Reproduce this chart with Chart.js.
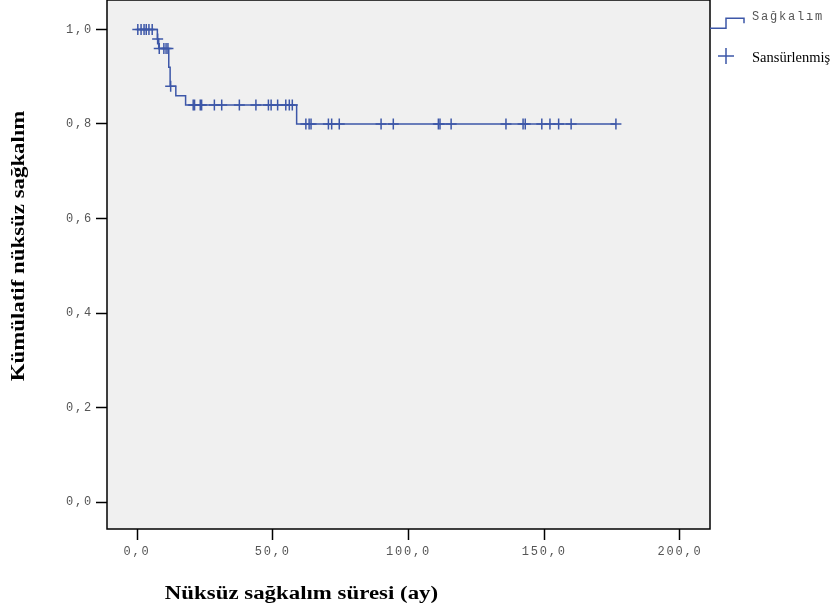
<!DOCTYPE html>
<html lang="tr">
<head>
<meta charset="utf-8">
<title>Kümülatif nüksüz sağkalım</title>
<script src="https://cdn.jsdelivr.net/npm/chart.js@4.4.1/dist/chart.umd.min.js"></script>
<style>
  html, body { margin: 0; padding: 0; background: #ffffff; }
  canvas { display: block; }
</style>
</head>
<body>
<canvas id="km" width="832" height="611"></canvas>
<script>
// Kaplan–Meier curve: time of each drop (months) and survival after it
const stepTimes    = [0, 7.5, 8.0, 11.7, 12.2, 14.3, 17.9, 58.8, 176.4];
const stepSurvival = [1.0, 0.98, 0.96, 0.92, 0.88, 0.86, 0.84, 0.80, 0.80];

// censored follow-up times (months)
const censorTimes = [
  0.3, 1.5, 2.6, 3.4, 4.4, 5.6, 7.6, 8.2, 9.9, 10.7, 11.4, 12.4,
  20.7, 21.2, 23.3, 23.8, 28.5, 31.2, 37.7, 43.8, 48.4, 49.4, 51.8,
  54.8, 56.1, 57.2, 62.2, 63.4, 64.1, 70.5, 71.7, 74.5, 89.9, 94.4,
  111.0, 111.6, 115.7, 135.9, 142.2, 143.0, 149.1, 152.1, 155.3, 159.9, 176.4
];

const xTicks = [0, 50, 100, 150, 200];
const yTicks = [0, 0.2, 0.4, 0.6, 0.8, 1.0];
const seriesLabels = ['Sağkalım', 'Sansürlenmiş'];
const xTitle = 'Nüksüz sağkalım süresi (ay)';
const yTitle = 'Kümülatif nüksüz sağkalım';

const BLUE = '#3D57A8';
const TICK_FONT = { family: '"Liberation Mono", "DejaVu Sans Mono", monospace', size: 12 };
const SPACING = '1.8px';

// survival level of the step curve at time t
function survivalAt(t) {
  let s = stepSurvival[0];
  for (let i = 0; i < stepTimes.length; i++) {
    if (stepTimes[i] <= t) s = stepSurvival[i];
  }
  return s;
}

const fmt = v => Number(v).toFixed(1).replace('.', ',');

function stretchedText(ctx, text, x, y, angle, font, sx) {
  ctx.save();
  ctx.translate(x, y);
  ctx.rotate(angle);
  ctx.scale(sx, 1);
  ctx.font = font;
  ctx.textAlign = 'center';
  ctx.textBaseline = 'middle';
  ctx.fillStyle = '#000';
  ctx.fillText(text, 0, 0);
  ctx.restore();
}

const framePlugin = {
  id: 'frame',
  beforeDraw(chart) {
    const { ctx, chartArea: a } = chart;
    ctx.save();
    ctx.fillStyle = '#F0F0F0';
    ctx.fillRect(a.left, a.top, a.right - a.left, a.bottom - a.top);
    ctx.restore();
    ctx.letterSpacing = SPACING;
  },
  afterDraw(chart) {
    const { ctx, chartArea: a } = chart;
    ctx.save();
    ctx.letterSpacing = '0px';

    // plot frame
    ctx.strokeStyle = '#000';
    ctx.lineWidth = 1.5;
    ctx.strokeRect(a.left, a.top, a.right - a.left, a.bottom - a.top);

    // axis titles
    const titleFont = 'bold 18px "Liberation Serif", "Times New Roman", serif';
    stretchedText(ctx, xTitle, 301.5, 594, 0, titleFont, 1.27);
    stretchedText(ctx, yTitle, 19, 246, -Math.PI / 2, titleFont, 1.27);

    // legend: step symbol
    ctx.strokeStyle = BLUE;
    ctx.lineWidth = 1.5;
    ctx.beginPath();
    ctx.moveTo(a.right, 28.3);
    ctx.lineTo(726, 28.3);
    ctx.lineTo(726, 18.3);
    ctx.lineTo(744, 18.3);
    ctx.lineTo(744, 23.3);
    ctx.stroke();

    // legend: censor cross
    ctx.beginPath();
    ctx.moveTo(718, 56); ctx.lineTo(734, 56);
    ctx.moveTo(726, 48); ctx.lineTo(726, 64);
    ctx.stroke();

    ctx.textAlign = 'left';
    ctx.textBaseline = 'middle';
    ctx.letterSpacing = SPACING;
    ctx.fillStyle = '#555';
    ctx.font = '12px ' + TICK_FONT.family;
    ctx.fillText(chart.data.datasets[0].label, 752, 17);
    ctx.letterSpacing = '0px';
    ctx.fillStyle = '#000';
    ctx.font = '14.5px "Liberation Serif", "Times New Roman", serif';
    ctx.fillText(chart.data.datasets[1].label, 752, 58);

    ctx.restore();
    ctx.letterSpacing = '0px';
  }
};

new Chart(document.getElementById('km'), {
  type: 'scatter',
  data: {
    datasets: [
      {
        label: seriesLabels[0],
        data: stepTimes.map((t, i) => ({ x: t, y: stepSurvival[i] })),
        showLine: true,
        stepped: true,
        borderColor: BLUE,
        borderWidth: 1.5,
        pointRadius: 0,
        pointHoverRadius: 0,
        fill: false
      },
      {
        label: seriesLabels[1],
        data: censorTimes.map(t => ({ x: t, y: survivalAt(t) })),
        showLine: false,
        pointStyle: 'cross',
        pointRadius: 5.5,
        pointHoverRadius: 5.5,
        pointBorderColor: BLUE,
        pointBackgroundColor: BLUE,
        pointBorderWidth: 1.5
      }
    ]
  },
  options: {
    responsive: false,
    animation: false,
    devicePixelRatio: 1,
    layout: { autoPadding: false, padding: { left: 0, right: 122, top: 0, bottom: 0 } },
    plugins: {
      legend: { display: false },
      tooltip: { enabled: false },
      title: { display: false }
    },
    scales: {
      x: {
        type: 'linear',
        min: -11.05,
        max: 211.05,
        afterBuildTicks: s => { s.ticks = xTicks.map(v => ({ value: v })); },
        afterFit: s => { s.height = 82; s.paddingLeft = 0; s.paddingRight = 0; },
        grid: { display: true, drawOnChartArea: false, drawTicks: true, tickLength: 11, tickColor: '#000', tickWidth: 1.5 },
        border: { display: false },
        ticks: { color: '#555', font: TICK_FONT, padding: 5, maxRotation: 0, autoSkip: false, callback: fmt }
      },
      y: {
        type: 'linear',
        min: -0.0571,
        max: 1.0624,
        afterBuildTicks: s => { s.ticks = yTicks.map(v => ({ value: v })); },
        afterFit: s => { s.width = 107; s.paddingTop = 0; s.paddingBottom = 0; },
        grid: { display: true, drawOnChartArea: false, drawTicks: true, tickLength: 11, tickColor: '#000', tickWidth: 1.5 },
        border: { display: false },
        ticks: { color: '#555', font: TICK_FONT, padding: 3, autoSkip: false, callback: fmt }
      }
    }
  },
  plugins: [framePlugin]
});
</script>
</body>
</html>
